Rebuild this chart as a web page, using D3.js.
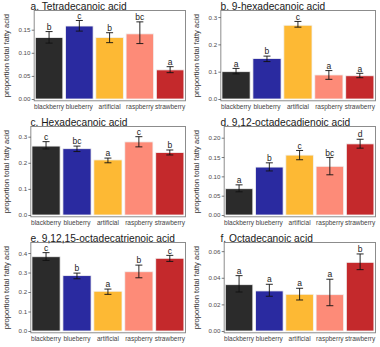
<!DOCTYPE html>
<html>
<head>
<meta charset="utf-8">
<style>
    body{ margin:0; background:#fff; }
    text{ font-family:"Liberation Sans", Arial, sans-serif; }
    .frame{ fill:none; stroke:#808080; stroke-width:0.9; }
    .tick line{ stroke:#444; stroke-width:0.7; }
    .tick text{ fill:#4d4d4d; font-size:6.2px; }
</style>
</head>
<body>
<script src="https://cdn.jsdelivr.net/npm/d3@7"></script>
<script>
var width = 380, height = 347;

// data
var fruits  = ["blackberry", "blueberry", "artificial", "raspberry", "strawberry"];
var colours = ["#2b2b2b", "#2a2aa0", "#fdb934", "#fd8b78", "#c4292c"];
var titles  = ["a. Tetradecanoic acid", "b. 9-hexadecanoic acid", "c. Hexadecanoic acid",
               "d. 9,12-octadecadienoic acid", "e. 9,12,15-octadecatrienoic acid", "f. Octadecanoic acid"];

var meanA = [0.133, 0.158, 0.133, 0.141, 0.063];
var meanB = [0.100, 0.148, 0.270, 0.088, 0.085];
var meanC = [0.264, 0.254, 0.211, 0.280, 0.239];
var meanD = [0.068, 0.124, 0.155, 0.126, 0.184];
var meanE = [0.381, 0.284, 0.204, 0.304, 0.373];
var meanF = [0.0348, 0.0301, 0.0276, 0.0273, 0.0516];

var hiA = [0.146, 0.170, 0.1435, 0.167, 0.070];
var hiB = [0.112, 0.157, 0.284, 0.104, 0.094];
var hiC = [0.281, 0.264, 0.218, 0.300, 0.249];
var hiD = [0.078, 0.135, 0.167, 0.149, 0.196];
var hiE = [0.402, 0.297, 0.215, 0.338, 0.388];
var hiF = [0.0416, 0.0351, 0.0321, 0.0389, 0.0579];

var loA = [0.121, 0.147, 0.122, 0.120, 0.057];
var loB = [0.092, 0.137, 0.263, 0.072, 0.078];
var loC = [0.253, 0.243, 0.200, 0.261, 0.230];
var loD = [0.060, 0.114, 0.143, 0.104, 0.173];
var loE = [0.362, 0.268, 0.188, 0.273, 0.357];
var loF = [0.0293, 0.0261, 0.0233, 0.0190, 0.0461];

var lettersA = ["b", "c", "b", "bc", "a"];
var lettersB = ["a", "b", "c", "a", "a"];
var lettersC = ["c", "bc", "a", "c", "b"];
var lettersD = ["a", "b", "c", "bc", "d"];
var lettersE = ["c", "b", "a", "b", "c"];
var lettersF = ["a", "a", "a", "a", "b"];

var ticksA = [0, 0.05, 0.10, 0.15];
var ticksB = [0, 0.1, 0.2, 0.3];
var ticksC = [0, 0.1, 0.2, 0.3];
var ticksD = [0, 0.05, 0.10, 0.15, 0.20];
var ticksE = [0, 0.1, 0.2, 0.3, 0.4];
var ticksF = [0, 0.02, 0.04, 0.06];
var tickFmt = [".2f", ".1f", ".1f", ".2f", ".1f", ".2f"];
var yTop = [0.1916, 0.324, 0.339, 0.229, 0.454, 0.0665];

var means   = [meanA, meanB, meanC, meanD, meanE, meanF];
var his     = [hiA, hiB, hiC, hiD, hiE, hiF];
var los     = [loA, loB, loC, loD, loE, loF];
var letters = [lettersA, lettersB, lettersC, lettersD, lettersE, lettersF];
var ticks   = [ticksA, ticksB, ticksC, ticksD, ticksE, ticksF];

var svg = d3.select("body").append("svg")
    .attr("width", width)
    .attr("height", height);

function drawPanel(k){
    var cx = (k % 2) * 190, cy = Math.floor(k / 2) * 116;
    var g = svg.append("g").attr("transform", "translate(" + cx + "," + cy + ")");
    var fmt = d3.format(tickFmt[k]);

    // width of the widest tick label decides where the panel starts
    var probe = g.append("text").style("font-size", "6px")
        .text(fmt(d3.max(ticks[k])));
    var lw = probe.node().getComputedTextLength();
    probe.remove();

    var left = 22.5 + lw, right = 185.5, top = 10.5, zero = 99, bottom = 100.8;

    var x = d3.scaleBand().domain(fruits).range([left + 0.5, right - 1])
        .paddingInner(0.09).paddingOuter(0.02);
    var y = d3.scaleLinear().domain([0, yTop[k]]).range([zero, top]);

    g.append("rect").attr("class", "frame")
        .attr("x", left).attr("y", top)
        .attr("width", right - left).attr("height", bottom - top);

    g.selectAll(".bar").data(fruits).enter().append("rect")
        .attr("class", "bar")
        .attr("x", function(d){ return x(d); })
        .attr("y", function(d, i){ return y(means[k][i]); })
        .attr("width", x.bandwidth())
        .attr("height", function(d, i){ return zero - y(means[k][i]); })
        .attr("fill", function(d, i){ return colours[i]; })
        .attr("stroke", "#f2f2f2").attr("stroke-width", 0.8);

    var cap = 3.5;
    fruits.forEach(function(f, i){
        var m = x(f) + x.bandwidth() / 2;
        var y1 = y(his[k][i]), y2 = y(los[k][i]);
        g.append("line").attr("x1", m).attr("x2", m).attr("y1", y1).attr("y2", y2)
            .attr("stroke", "#111").attr("stroke-width", 0.9);
        g.append("line").attr("x1", m - cap).attr("x2", m + cap).attr("y1", y1).attr("y2", y1)
            .attr("stroke", "#111").attr("stroke-width", 0.9);
        g.append("line").attr("x1", m - cap).attr("x2", m + cap).attr("y1", y2).attr("y2", y2)
            .attr("stroke", "#111").attr("stroke-width", 0.9);
        g.append("text").attr("x", m).attr("y", y1 - 1.8)
            .attr("text-anchor", "middle")
            .style("font-size", "8.5px").style("fill", "#222")
            .text(letters[k][i]);
        g.append("text").attr("x", m).attr("y", bottom + 8.5)
            .attr("text-anchor", "middle")
            .style("font-size", "6.5px").style("fill", "#444")
            .text(f);
    });

    var ax = g.append("g").attr("transform", "translate(" + left + ",0)")
        .call(d3.axisLeft(y).tickValues(ticks[k]).tickFormat(fmt).tickSize(2.5).tickPadding(1.2));
    ax.select(".domain").remove();
    ax.selectAll(".tick text").attr("font-size", null).attr("font-family", null);

    g.append("text")
        .attr("transform", "translate(8.5," + ((top + bottom) / 2) + ") rotate(-90)")
        .attr("text-anchor", "middle")
        .style("font-size", "7.6px").style("fill", "#333")
        .text("proportion total fatty acid");

    g.append("text").attr("x", 30.5).attr("y", 9.6)
        .style("font-size", "10.2px").style("fill", "#1a1a1a")
        .text(titles[k]);
}

for (var k = 0; k < 6; k++) drawPanel(k);
</script>
</body>
</html>
